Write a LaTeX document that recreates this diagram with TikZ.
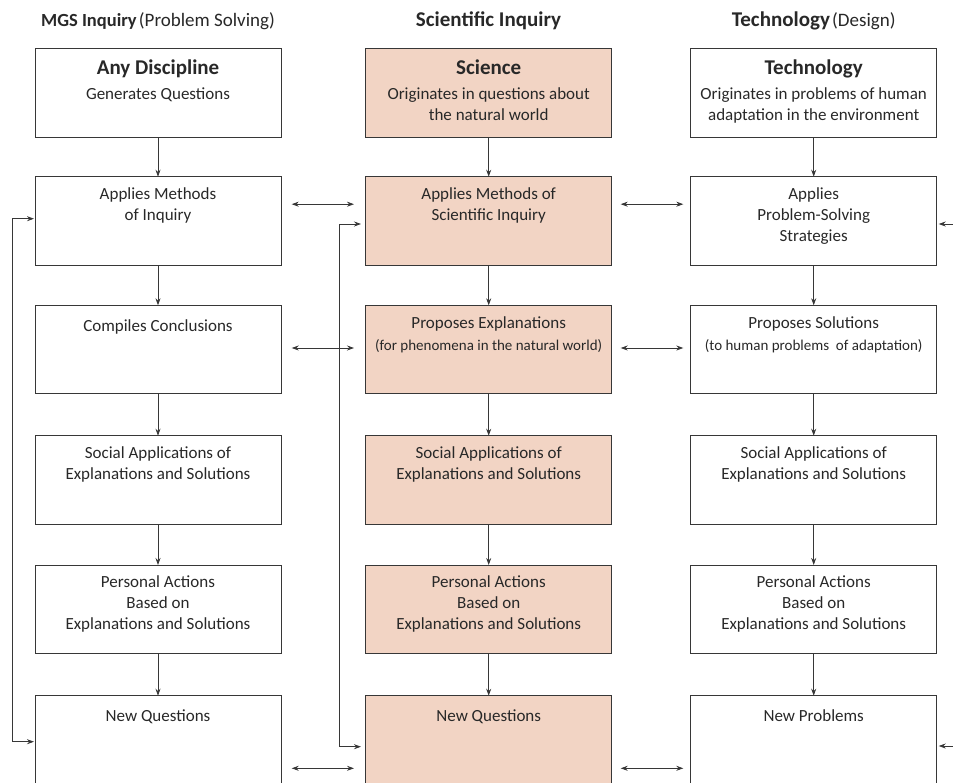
\documentclass[tikz,border=0pt]{standalone}
\usepackage{fontspec}
\setmainfont{Carlito}
\usetikzlibrary{arrows.meta,calc}
\definecolor{salmon}{RGB}{242,212,196}
\definecolor{linec}{RGB}{55,55,55}
\definecolor{txtc}{RGB}{40,40,40}
\newcommand{\boxhead}[1]{{\fontsize{21}{25}\selectfont\bfseries #1}}
\newcommand{\smalltxt}[1]{{\fontsize{15}{21}\selectfont #1}}
\begin{document}
\begin{tikzpicture}[x=1pt,y=-1pt,
  box/.style={draw=linec, line width=1pt, minimum width=246pt, minimum height=88.5pt,
    inner sep=0pt, outer sep=0pt, anchor=north west},
  sbox/.style={box, fill=salmon},
  tall/.style={minimum height=130pt},
  txt/.style={anchor=north, align=center, inner sep=0pt, text=txtc,
    font=\fontsize{17}{21}\selectfont, execute at begin node=\strut},
  title/.style={anchor=base, inner sep=0pt, text=txtc},
  arr/.style={draw=linec, line width=0.8pt, -{Stealth[length=7pt,width=5pt]}},
  darr/.style={draw=linec, line width=0.8pt,
    {Stealth[length=7pt,width=5pt]}-{Stealth[length=7pt,width=5pt]}},
]
\useasboundingbox (0,0) rectangle (953,782);
\clip (0,0) rectangle (953,782);

% titles
\node[title] (hL) at (158,26) {{\fontsize{18.5}{22}\selectfont\bfseries MGS Inquiry} {\fontsize{19}{22}\selectfont(Problem Solving)}};
\node[title] (hM) at (488.5,26) {{\fontsize{21}{22}\selectfont\bfseries Scientific Inquiry}};
\node[title] (hR) at (813.7,26) {{\fontsize{21}{22}\selectfont\bfseries Technology} {\fontsize{19}{22}\selectfont(Design)}};

% boxes
\node[box]  (L1) at (35,48.7) {};
\node[sbox] (M1) at (365.7,48.7) {};
\node[box]  (R1) at (690.7,48.7) {};
\node[box]  (L2) at (35,176.7) {};
\node[sbox] (M2) at (365.7,176.7) {};
\node[box]  (R2) at (690.7,176.7) {};
\node[box]  (L3) at (35,305.3) {};
\node[sbox] (M3) at (365.7,305.3) {};
\node[box]  (R3) at (690.7,305.3) {};
\node[box]  (L4) at (35,435.7) {};
\node[sbox] (M4) at (365.7,435.7) {};
\node[box]  (R4) at (690.7,435.7) {};
\node[box]  (L5) at (35,565) {};
\node[sbox] (M5) at (365.7,565) {};
\node[box]  (R5) at (690.7,565) {};
\node[box,tall]  (L6) at (35,695.7) {};
\node[sbox,tall] (M6) at (365.7,695.7) {};
\node[box,tall]  (R6) at (690.7,695.7) {};

% texts
\node[txt] (tL1) at ($(L1.north)+(0,10.8)$) {\boxhead{Any Discipline}\\[4pt] Generates Questions};
\node[txt] (tM1) at ($(M1.north)+(0,10.8)$) {\boxhead{Science}\\[4pt] Originates in questions about\\ the natural world};
\node[txt] (tR1) at ($(R1.north)+(0,10.8)$) {\boxhead{Technology}\\[4pt] Originates in problems of human\\ adaptation in the environment};
\node[txt] (tL2) at ($(L2.north)+(0,10.8)$) {Applies Methods\\ of Inquiry};
\node[txt] (tM2) at ($(M2.north)+(0,10.8)$) {Applies Methods of\\ Scientific Inquiry};
\node[txt] (tR2) at ($(R2.north)+(0,10.8)$) {Applies\\ Problem-Solving\\ Strategies};
\node[txt] (tL3) at ($(L3.north)+(0,10.8)$) {Compiles Conclusions};
\node[txt] (tM3) at ($(M3.north)+(0,10.8)$) {Proposes Explanations\\[1pt] \smalltxt{(for phenomena in the natural world)}};
\node[txt] (tR3) at ($(R3.north)+(0,10.8)$) {Proposes Solutions\\[1pt] \smalltxt{(to human problems~ of adaptation)}};
\node[txt] (tL4) at ($(L4.north)+(0,10.8)$) {Social Applications of\\ Explanations and Solutions};
\node[txt] (tM4) at ($(M4.north)+(0,10.8)$) {Social Applications of\\ Explanations and Solutions};
\node[txt] (tR4) at ($(R4.north)+(0,10.8)$) {Social Applications of\\ Explanations and Solutions};
\node[txt] (tL5) at ($(L5.north)+(0,10.8)$) {Personal Actions\\ Based on\\ Explanations and Solutions};
\node[txt] (tM5) at ($(M5.north)+(0,10.8)$) {Personal Actions\\ Based on\\ Explanations and Solutions};
\node[txt] (tR5) at ($(R5.north)+(0,10.8)$) {Personal Actions\\ Based on\\ Explanations and Solutions};
\node[txt] (tL6) at ($(L6.north)+(0,10.8)$) {New Questions};
\node[txt] (tM6) at ($(M6.north)+(0,10.8)$) {New Questions};
\node[txt] (tR6) at ($(R6.north)+(0,10.8)$) {New Problems};

% vertical arrows
\foreach \c in {L,M,R}{
  \foreach \i/\j in {1/2,2/3,3/4,4/5,5/6}{
    \draw[arr] (\c\i.south) -- (\c\j.north);
  }
}

% horizontal double arrows
\draw[darr] ($(L2.north east)+(10.7,27.5)$) -- ($(M2.north west)+(-11.7,27.5)$);
\draw[darr] ($(M2.north east)+(9,27.5)$) -- ($(R2.north west)+(-7.4,27.5)$);
\draw[darr] ($(L3.north east)+(10.7,42.7)$) -- ($(M3.north west)+(-11.7,42.7)$);
\draw[darr] ($(M3.north east)+(9,42.7)$) -- ($(R3.north west)+(-7.4,42.7)$);
\draw[darr] ($(L6.north east)+(10.7,72.6)$) -- ($(M6.north west)+(-11.7,72.6)$);
\draw[darr] ($(M6.north east)+(9,72.6)$) -- ($(R6.north west)+(-7.4,72.6)$);

% feedback loops
\draw[darr] ($(L2.north west)+(-1,42)$) -- ++(-22,0) |- ($(L6.north west)+(-1,46)$);
\draw[darr] ($(M2.north west)+(-4.7,47.3)$) -- ++(-21.7,0) |- ($(M6.north west)+(-4.7,51)$);

% incoming arrows at right edge
\coordinate (rin1) at (960,224);
\coordinate (rin2) at (960,746);
\draw[arr] (rin1) -- ($(R2.north east)+(2,47.3)$);
\draw[arr] (rin2) -- ($(R6.north east)+(2,50.3)$);
\end{tikzpicture}
\end{document}
